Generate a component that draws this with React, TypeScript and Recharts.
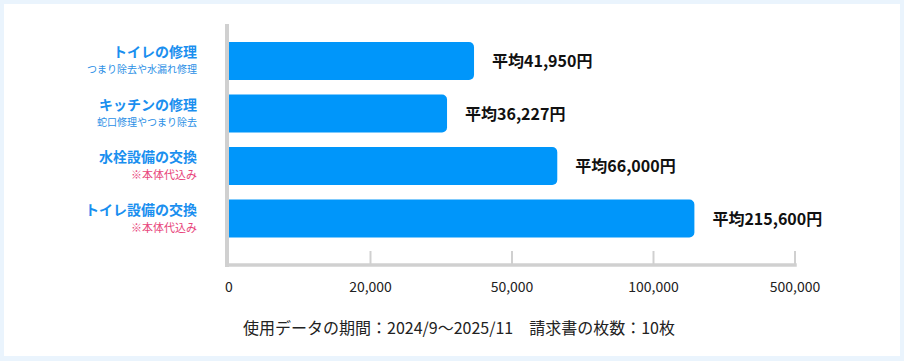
import React from 'react';
import { BarChart, Bar, XAxis, YAxis, LabelList } from 'recharts';

const categories = ['トイレの修理', 'キッチンの修理', '水栓設備の交換', 'トイレ設備の交換'];
const subtitles = ['つまり除去や水漏れ修理', '蛇口修理やつまり除去', '※本体代込み', '※本体代込み'];
const averages = [41950, 36227, 66000, 215600];
const tickValues = [0, 20000, 50000, 100000, 500000];
const tickLabels = ['0', '20,000', '50,000', '100,000', '500,000'];
const footnote = '使用データの期間：2024/9〜2025/11\u3000請求書の枚数：10枚';

const FONT = '"Noto Sans CJK JP", "Noto Sans", sans-serif';

// piecewise-linear position on the evenly spaced, non-linear axis
const toPos = (v: number) => {
  for (let i = 1; i < tickValues.length; i++) {
    if (v <= tickValues[i]) {
      const a = tickValues[i - 1];
      const b = tickValues[i];
      return i - 1 + (v - a) / (b - a);
    }
  }
  return tickValues.length - 1;
};

const data = categories.map((c, i) => ({
  name: c,
  sub: subtitles[i],
  value: averages[i],
  pos: toPos(averages[i]),
}));

const YTick = (props: any) => {
  const { x, y, payload, index } = props;
  const sub = subtitles[index];
  const isNote = sub.startsWith('※');
  return (
    <g>
      <text x={x - 32} y={y - 4} textAnchor="end" fontFamily={FONT} fontSize={14} fontWeight={700} fill="#1A8FEF">
        {payload.value}
      </text>
      <text x={x - 32} y={isNote ? y + 13 : y + 12} textAnchor="end" fontFamily={FONT} fontSize={isNote ? 11 : 10} fill={isNote ? '#E8467C' : '#2B8FE6'}>
        {sub}
      </text>
    </g>
  );
};

const XTick = (props: any) => {
  const { x, y, index } = props;
  return (
    <g>
      {index > 0 && <line x1={x} x2={x} y1={y - 14} y2={y} stroke="#D0D0D0" strokeWidth={2} />}
      <text x={x} y={y + 27} textAnchor="middle" fontFamily={FONT} fontSize={14} fill="#222">
        {tickLabels[index]}
      </text>
    </g>
  );
};

const ValueLabel = (props: any) => {
  const { x, y, width, height, index } = props;
  return (
    <text x={x + width + 18} y={y + height / 2 + 6} fontFamily={FONT} fontSize={16} fontWeight={700} fill="#111">
      {`平均${averages[index].toLocaleString('en-US')}円`}
    </text>
  );
};

export default function App() {
  return (
    <div style={{ position: 'absolute', left: 0, top: 0, width: 904, height: 361, background: '#EAF4FD' }}>
      <div style={{ position: 'absolute', left: 4, top: 4, width: 896, height: 352, background: '#FFFFFF' }} />
      <div style={{ position: 'absolute', left: 0, top: 0 }}>
        <BarChart
          width={904}
          height={361}
          layout="vertical"
          data={data}
          margin={{ top: 26, right: 109, bottom: 66, left: 0 }}
        >
          <XAxis
            type="number"
            dataKey="pos"
            domain={[0, 4]}
            ticks={[0, 1, 2, 3, 4]}
            interval={0}
            height={30}
            tickSize={0}
            tickMargin={0}
            tickLine={false}
            axisLine={{ stroke: '#D0D0D0', strokeWidth: 3.5, strokeLinecap: 'square' }}
            tick={<XTick />}
          />
          <YAxis
            type="category"
            dataKey="name"
            width={229}
            padding={{ top: 9, bottom: 20 }}
            tickSize={0}
            tickMargin={0}
            tickLine={false}
            axisLine={{ stroke: '#D0D0D0', strokeWidth: 4, strokeLinecap: 'square', transform: 'translate(-2 0)' }}
            tick={<YTick />}
            interval={0}
          />
          <Bar dataKey="pos" fill="#0096FA" barSize={38} radius={[0, 5, 5, 0]} isAnimationActive={false}>
            <LabelList dataKey="value" content={<ValueLabel />} />
          </Bar>
        </BarChart>
      </div>
      <div
        style={{
          position: 'absolute',
          left: 243,
          top: 317,
          lineHeight: '20px',
          fontFamily: FONT,
          fontSize: 16,
          color: '#222',
          whiteSpace: 'pre',
        }}
      >
        {footnote}
      </div>
    </div>
  );
}
